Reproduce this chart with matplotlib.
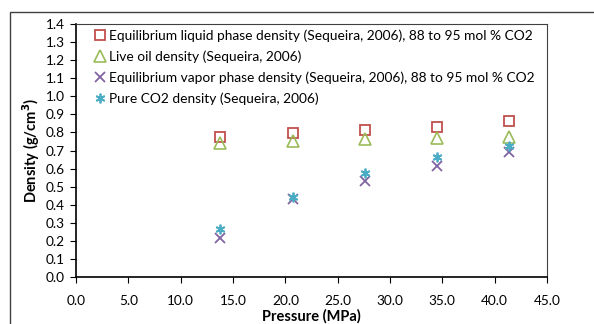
import matplotlib
matplotlib.use("Agg")
import matplotlib.pyplot as plt
from matplotlib.patches import Rectangle

plt.rcParams['font.family'] = ['Lato', 'DejaVu Sans']

pressure = [13.8, 20.7, 27.6, 34.5, 41.4]
liquid = [0.776, 0.795, 0.813, 0.832, 0.862]
live_oil = [0.743, 0.754, 0.762, 0.771, 0.776]
vapor = [0.218, 0.432, 0.533, 0.616, 0.689]
pure_co2 = [0.266, 0.441, 0.574, 0.662, 0.727]

fig = plt.figure(figsize=(5.94, 3.24), dpi=100)
ax = fig.add_axes([76/594, 1 - 277/324, (547-76)/594, (277-24)/324])

# outer chart border
fig.patches.append(Rectangle((10/594, -0.1), 1.0, 1 - 12/324 + 0.1,
                             transform=fig.transFigure, fill=False,
                             edgecolor='#404040', linewidth=1.0))

ax.plot(pressure, liquid, linestyle='none', marker='s', markersize=6.5,
        markerfacecolor='none', markeredgecolor='#C0504D', markeredgewidth=1.3,
        label='Equilibrium liquid phase density (Sequeira, 2006), 88 to 95 mol % CO2')
ax.plot(pressure, live_oil, linestyle='none', marker='^', markersize=8,
        markerfacecolor='none', markeredgecolor='#9BBB59', markeredgewidth=1.2,
        label='Live oil density (Sequeira, 2006)')
ax.plot(pressure, vapor, linestyle='none', marker='x', markersize=7,
        markeredgecolor='#8064A2', markeredgewidth=1.3,
        label='Equilibrium vapor phase density (Sequeira, 2006), 88 to 95 mol % CO2')
ax.plot(pressure, pure_co2, linestyle='none', marker=(6, 2, 0), markersize=7,
        markeredgecolor='#4BACC6', markeredgewidth=1.3,
        label='Pure CO2 density (Sequeira, 2006)')

ax.set_xlim(0, 45)
ax.set_ylim(0, 1.4)
ax.set_xticks([i * 5.0 for i in range(10)])
ax.set_yticks([i / 10 for i in range(15)])
ax.xaxis.set_major_formatter(matplotlib.ticker.FormatStrFormatter('%.1f'))
ax.yaxis.set_major_formatter(matplotlib.ticker.FormatStrFormatter('%.1f'))
ax.tick_params(direction='out', length=4, width=0.8, labelsize=9.8, colors='black')
ax.tick_params(axis='x', pad=9)
ax.tick_params(axis='y', pad=4)

for s in ['left', 'bottom']:
    ax.spines[s].set_linewidth(1.2)
    ax.spines[s].set_color('black')
for s in ['top', 'right']:
    ax.spines[s].set_linewidth(0.8)
    ax.spines[s].set_color('#404040')

ax.set_xlabel('Pressure (MPa)', fontsize=10.5, fontweight='bold', labelpad=1.5)
ax.set_ylabel('Density (g/cm$^\\mathbf{3}$)', fontsize=10.5, fontweight='bold', labelpad=3)

ax.legend(loc='upper left', frameon=False, fontsize=9.9, handlelength=0.8,
          handletextpad=0.3, borderaxespad=0.0, labelspacing=0.62,
          bbox_to_anchor=(0.027, 1.0))

fig.savefig('out.png', dpi=100)
